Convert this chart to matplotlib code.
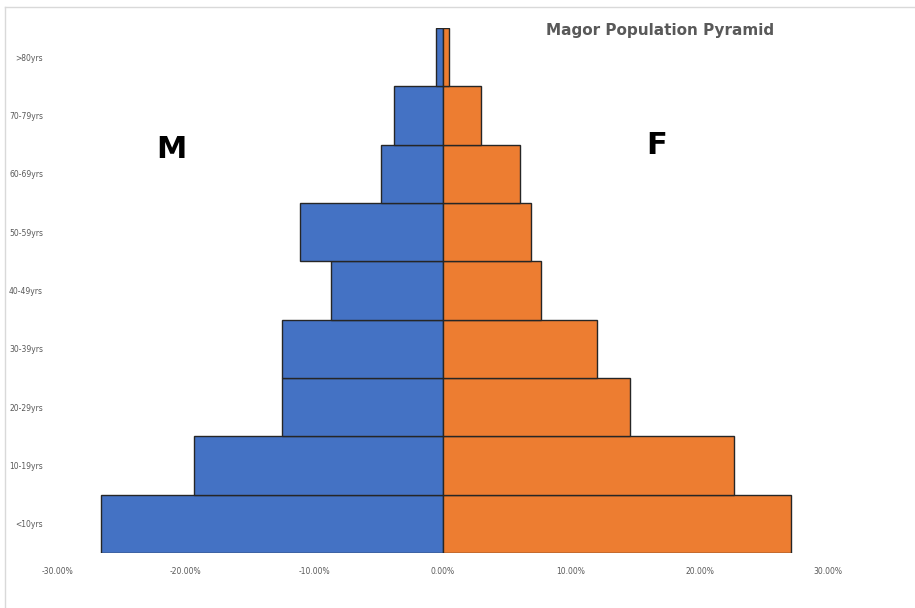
import matplotlib.pyplot as plt
from matplotlib.lines import Line2D

categories = ["<10yrs", "10-19yrs", "20-29yrs", "30-39yrs", "40-49yrs",
              "50-59yrs", "60-69yrs", "70-79yrs", ">80yrs"]
male = [-26.6, -19.3, -12.5, -12.5, -8.7, -11.1, -4.8, -3.8, -0.5]
female = [27.1, 22.7, 14.6, 12.0, 7.7, 6.9, 6.0, 3.0, 0.5]
xticks = [-30, -20, -10, 0, 10, 20, 30]
xticklabels = ["-30.00%", "-20.00%", "-10.00%", "0.00%", "10.00%", "20.00%", "30.00%"]

fig = plt.figure(figsize=(9.15, 6.08), dpi=100)
ax = fig.add_axes([57/915, 55/608, (828-57)/915, (553-28)/608])

y = list(range(len(categories)))
ax.barh(y, male, height=1.0, color="#4472C4", edgecolor="#262626", linewidth=1.0)
ax.barh(y, female, height=1.0, color="#ED7D31", edgecolor="#262626", linewidth=1.0)

ax.set_xlim(-30, 30)
ax.set_ylim(-0.5, len(categories) - 0.5)
ax.set_xticks(xticks)
ax.set_xticklabels(xticklabels, fontsize=5.5, color="#595959")
ax.set_yticks(y)
ax.set_yticklabels(categories, fontsize=5.5, color="#595959")
ax.tick_params(axis="both", length=0)
ax.tick_params(axis="x", pad=10)
ax.tick_params(axis="y", pad=10)
for s in ax.spines.values():
    s.set_visible(False)

fig.text(660/915, 1 - 30/608, "Magor Population Pyramid", ha="center", va="center",
         fontsize=11, fontweight="bold", color="#595959")
fig.text(171/915, 1 - 149/608, "M", ha="center", va="center", fontsize=22,
         fontweight="bold", color="black")
fig.text(657/915, 1 - 146/608, "F", ha="center", va="center", fontsize=22,
         fontweight="bold", color="black")

fig.add_artist(Line2D([5/915, 5/915], [0, 1 - 7/608], transform=fig.transFigure,
                      color="#d9d9d9", linewidth=1))
fig.add_artist(Line2D([5/915, 1], [1 - 7/608, 1 - 7/608], transform=fig.transFigure,
                      color="#d9d9d9", linewidth=1))

fig.savefig("out.png", dpi=100)
